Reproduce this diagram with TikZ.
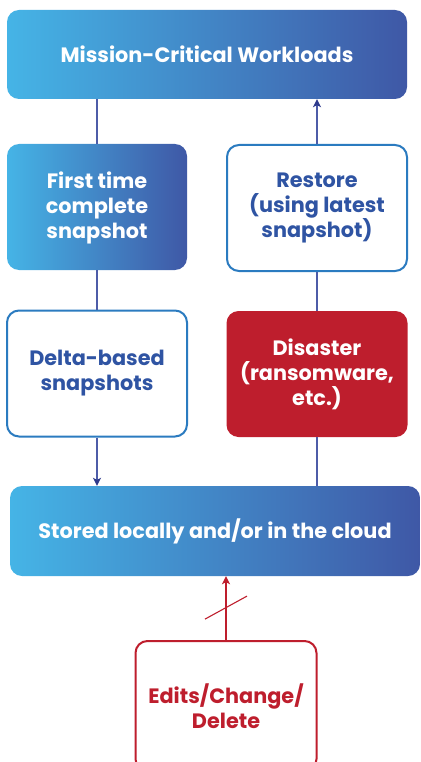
\documentclass[tikz,border=0pt]{standalone}
\usepackage{fontspec}
\setmainfont{Poppins}[BoldFont={Poppins Bold}]
\usetikzlibrary{arrows.meta,calc}
\definecolor{gradL}{HTML}{45B4E6}
\definecolor{gradR}{HTML}{3F58A6}
\definecolor{frameblue}{HTML}{2B7BC0}
\definecolor{textblue}{HTML}{2F54A3}
\definecolor{linkblue}{HTML}{4D5CA8}
\definecolor{tipblue}{HTML}{2E3A8C}
\definecolor{alertred}{HTML}{BE1E2D}
\tikzset{
  box/.style={rectangle, rounded corners=12pt, align=center,
    font=\fontsize{20.8}{25}\selectfont\bfseries, inner sep=0pt},
  gradbox/.style={box, draw=none, left color=gradL, right color=gradR, text=white},
  outlinebox/.style={box, draw=frameblue, line width=2pt, fill=white, text=textblue},
  redbox/.style={box, draw=none, fill=alertred, text=white},
  redoutline/.style={box, draw=alertred, line width=2pt, fill=white, text=alertred},
  link/.style={draw=linkblue, line width=1.3pt},
  linkarrow/.style={link, -{Stealth[length=8pt,width=8pt,inset=2pt,color=tipblue]}},
  redarrow/.style={draw=alertred, line width=1.3pt, -{Stealth[length=8pt,width=8pt,inset=2pt]}},
}
\begin{document}
\begin{tikzpicture}[x=1pt,y=-1pt]
\useasboundingbox (0,0) rectangle (420,762);

\node[gradbox, minimum width=400pt, minimum height=89pt] (top) at (207,54.5) {Mission-Critical Workloads};
\node[gradbox, minimum width=180pt, minimum height=126pt] (first) at (97,207) {\\[-6pt]First time\\complete\\snapshot};
\node[outlinebox, minimum width=180pt, minimum height=126pt] (restore) at (317,208) {Restore\\(using latest\\snapshot)};
\node[outlinebox, minimum width=180pt, minimum height=126pt] (delta) at (97,373.5) {Delta-based\\snapshots};
\node[redbox, minimum width=181pt, minimum height=126pt] (disaster) at (317,374) {Disaster\\(ransomware,\\etc.)};
\node[gradbox, minimum width=410pt, minimum height=90pt] (stored) at (215,531) {Stored locally and/or in the cloud};
\node[redoutline, minimum width=181pt, minimum height=130pt] (edits) at (226,706) {Edits/Change/\\Delete};

% left column: top-down flow into storage
\draw[link] (first.north |- top.south) -- (first.north);
\draw[link] (first.south) -- (delta.north);
\draw[linkarrow] (delta.south) -- (delta.south |- stored.north);

% right column: from storage back up to the workloads
\draw[link] (disaster.south |- stored.north) -- (disaster.south);
\draw[link] (disaster.north) -- (restore.south);
\draw[linkarrow] (restore.north) -- (restore.north |- top.south);

% blocked change path
\draw[redarrow] (edits.north) -- (edits.north |- stored.south);
\coordinate (cut) at ($(edits.north)!0.5!(edits.north |- stored.south)$);
\draw[alertred, line width=1.1pt] ($(cut)+(-21,11)$) -- ($(cut)+(21,-12)$);
\end{tikzpicture}
\end{document}
